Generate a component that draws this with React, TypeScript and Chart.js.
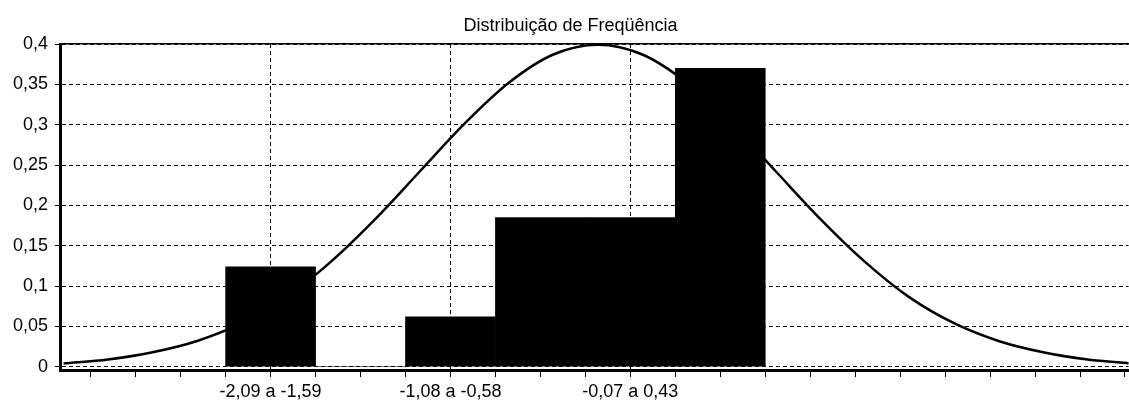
import React, { useEffect, useRef } from 'react';
import { Chart, registerables } from 'chart.js';

Chart.register(...registerables);

// ---- data ----
const chartTitle = 'Distribuição de Freqüência';

// histogram bins (lower / upper class limits) and relative frequencies
const binLower = [-2.09, -1.585, -1.08, -0.575, -0.07, 0.435];
const binUpper = [-1.585, -1.08, -0.575, -0.07, 0.435, 0.94];
const binFreq = [0.124, 0, 0.062, 0.185, 0.185, 0.37];
const binLabels = ['-2,09 a -1,59', '', '-1,08 a -0,58', '', '-0,07 a 0,43', ''];

// fitted normal curve
const curveX = [-3, -2.75, -2.5, -2.25, -2, -1.75, -1.5, -1.25, -1, -0.75, -0.5, -0.25, 0,
  0.25, 0.5, 0.75, 1, 1.25, 1.5, 1.75, 2, 2.25, 2.5, 2.75, 3];
const curveY = [0.004, 0.009, 0.018, 0.032, 0.054, 0.086, 0.13, 0.183, 0.242, 0.301, 0.352, 0.387, 0.399,
  0.387, 0.352, 0.301, 0.242, 0.183, 0.13, 0.086, 0.054, 0.032, 0.018, 0.009, 0.004];

// y axis tick values
const yTicks = [0, 0.05, 0.1, 0.15, 0.2, 0.25, 0.3, 0.35, 0.4];

const xMin = -3.02;
const xMax = 2.98;
const yMin = -0.004;
const yMax = 0.4;

const FONT = "'Liberation Sans', Arial, sans-serif";

function fmtComma(v: number): string {
  return String(Number(v.toFixed(2))).replace('.', ',');
}

function xMarks(): number[] {
  const half = (binUpper[0] - binLower[0]) / 2;
  const marks: number[] = [];
  for (let v = binLower[0]; v >= xMin; v -= half) marks.unshift(v);
  for (let v = binLower[0] + half; v <= xMax; v += half) marks.push(v);
  return marks;
}

function labelFor(value: number): string {
  for (let k = 0; k < binLower.length; k++) {
    const c = (binLower[k] + binUpper[k]) / 2;
    if (Math.abs(c - value) < 1e-6) return binLabels[k];
  }
  return '';
}

export default function App() {
  const ref = useRef<HTMLCanvasElement | null>(null);

  useEffect(() => {
    document.body.style.margin = '0';
    document.body.style.overflow = 'hidden';
    const canvas = ref.current;
    if (!canvas) return;

    const barData = binLower.map((lo, i) => ({ x: (lo + binUpper[i]) / 2, y: binFreq[i] }));
    const lineData = curveX.map((x, i) => ({ x, y: curveY[i] }));

    const chart = new Chart(canvas, {
      type: 'line',
      data: {
        datasets: [
          {
            type: 'bar',
            data: barData,
            backgroundColor: '#000',
            borderWidth: 0,
            barThickness: 'flex',
            categoryPercentage: 1,
            barPercentage: 1,
            order: 0,
            xAxisID: 'x',
            yAxisID: 'y',
          } as any,
          {
            type: 'line',
            data: lineData,
            borderColor: '#000',
            borderWidth: 2.5,
            pointRadius: 0,
            fill: false,
            cubicInterpolationMode: 'monotone',
            order: 1,
            xAxisID: 'x',
            yAxisID: 'y',
          } as any,
        ],
      },
      options: {
        responsive: false,
        animation: false,
        events: [],
        layout: { padding: { left: 12, right: 0, top: 0, bottom: 0 } },
        font: { family: FONT, size: 18 },
        color: '#000',
        plugins: {
          legend: { display: false },
          tooltip: { enabled: false },
          title: {
            display: true,
            text: chartTitle,
            color: '#000',
            font: { family: FONT, size: 18, weight: 'normal' },
            padding: { top: 15, bottom: 7.4 },
          },
        },
        scales: {
          x: {
            type: 'linear',
            position: 'bottom',
            min: xMin,
            max: xMax,
            offset: false,
            afterBuildTicks: (scale: any) => {
              scale.ticks = xMarks().map((v) => ({ value: v }));
            },
            afterFit: (scale: any) => {
              scale.height = 40;
            },
            ticks: {
              autoSkip: false,
              maxRotation: 0,
              minRotation: 0,
              padding: 4,
              color: '#000',
              font: { family: FONT, size: 18 },
              callback: (value: any) => labelFor(Number(value)),
            },
            grid: {
              offset: false,
              drawTicks: true,
              tickLength: 7,
              lineWidth: 1,
              color: (c: any) => (c.tick && c.tick.label ? '#000' : 'rgba(0,0,0,0)'),
              tickColor: '#000',
              tickWidth: 1,
            },
            border: { display: true, color: '#000', width: 3, dash: [4, 3] },
          },
          x2: {
            type: 'linear',
            position: 'top',
            min: xMin,
            max: xMax,
            display: true,
            ticks: { display: false },
            grid: { display: false, drawTicks: false },
            border: { display: true, color: '#000', width: 1.5 },
          },
          y: {
            type: 'linear',
            position: 'left',
            min: yMin,
            max: yMax,
            afterBuildTicks: (scale: any) => {
              scale.ticks = yTicks.map((v) => ({ value: v }));
            },
            afterFit: (scale: any) => {
              scale.width = 48;
            },
            ticks: {
              padding: 7,
              color: '#000',
              font: { family: FONT, size: 18 },
              callback: (value: any) => fmtComma(Number(value)),
            },
            grid: {
              drawTicks: true,
              tickLength: 5,
              lineWidth: 1,
              color: '#000',
              tickColor: '#000',
            },
            border: { display: true, color: '#000', width: 3, dash: [4, 3] },
          },
        },
      } as any,
    });

    return () => chart.destroy();
  }, []);

  return (
    <div style={{ width: 1129, height: 410, background: '#fff' }}>
      <canvas ref={ref} width={1129} height={410} style={{ display: 'block' }} />
    </div>
  );
}
